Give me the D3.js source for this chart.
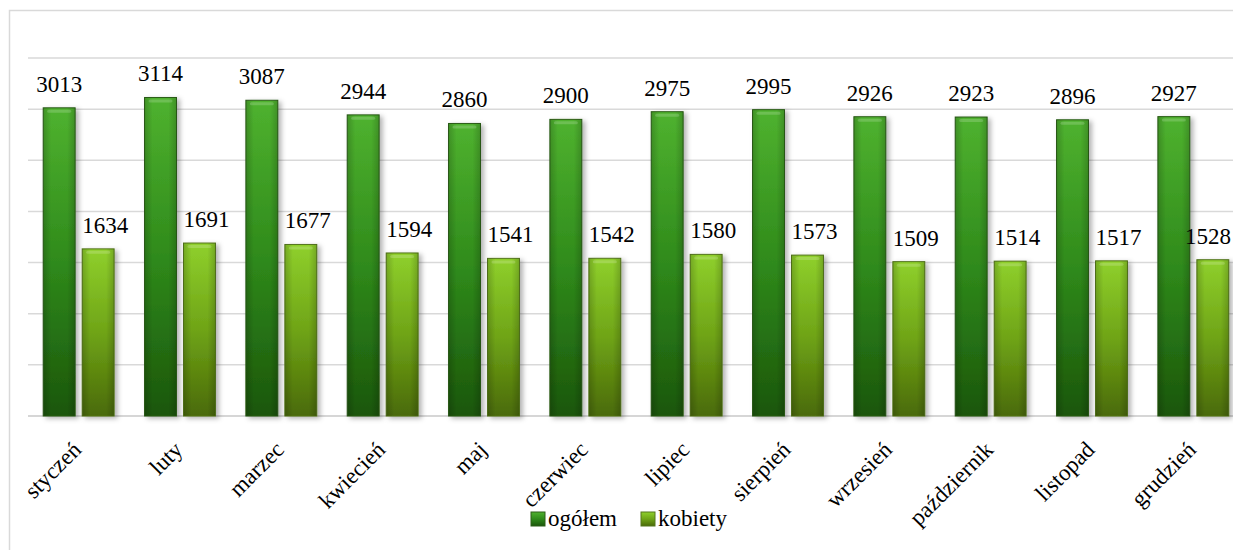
<!DOCTYPE html>
<html>
<head>
<meta charset="utf-8">
<script src="https://cdn.jsdelivr.net/npm/d3@7.9.0/dist/d3.min.js"></script>
<style>
  body { margin: 0; background: #fff; }
  text { font-family: "Liberation Serif", "Times New Roman", serif; }
</style>
</head>
<body>
<svg></svg>
<script>
const months = ["styczeń", "luty", "marzec", "kwiecień", "maj", "czerwiec", "lipiec", "sierpień", "wrzesień", "październik", "listopad", "grudzień"];
const ogolem = [3013, 3114, 3087, 2944, 2860, 2900, 2975, 2995, 2926, 2923, 2896, 2927];
const kobiety = [1634, 1691, 1677, 1594, 1541, 1542, 1580, 1573, 1509, 1514, 1517, 1528];
const seriesNames = ["ogółem", "kobiety"];
const yTicks = [0, 500, 1000, 1500, 2000, 2500, 3000, 3500];

const width = 1233;
const height = 550;

const svg = d3.select("svg")
    .attr("width", width)
    .attr("height", height);

// gradients
const defs = svg.append("defs");
function vGrad(id, stops) {
    const g = defs.append("linearGradient").attr("id", id)
        .attr("x1", 0).attr("y1", 0).attr("x2", 0).attr("y2", 1);
    stops.forEach(s => g.append("stop").attr("offset", s[0]).attr("stop-color", s[1]));
}
vGrad("g0", [[0, "#4fb22f"], [0.5, "#2f8a1b"], [1, "#1b560b"]]);
vGrad("g1", [[0, "#8fd02c"], [0.5, "#6fa417"], [1, "#4a6a07"]]);
const hg = defs.append("linearGradient").attr("id", "hshade")
    .attr("x1", 0).attr("y1", 0).attr("x2", 1).attr("y2", 0);
hg.append("stop").attr("offset", 0).attr("stop-color", "#000").attr("stop-opacity", 0.18);
hg.append("stop").attr("offset", 0.25).attr("stop-color", "#000").attr("stop-opacity", 0);
hg.append("stop").attr("offset", 0.75).attr("stop-color", "#000").attr("stop-opacity", 0);
hg.append("stop").attr("offset", 1).attr("stop-color", "#000").attr("stop-opacity", 0.18);
const f = defs.append("filter").attr("id", "shadow")
    .attr("x", "-30%").attr("y", "-10%").attr("width", "170%").attr("height", "130%");
f.append("feDropShadow").attr("dx", 3).attr("dy", 2).attr("stdDeviation", 2.5)
    .attr("flood-color", "#000").attr("flood-opacity", 0.3);

// outer frame
svg.append("rect")
    .attr("x", 9.5).attr("y", 10.5)
    .attr("width", width + 20).attr("height", height + 20)
    .attr("fill", "none").attr("stroke", "#d9d9d9").attr("stroke-width", 1.5);

const x0 = d3.scaleBand()
    .domain(months)
    .range([28, 1244])
    .paddingInner(0.3)
    .paddingOuter(0.15);

const x1 = d3.scaleBand()
    .domain(seriesNames)
    .range([0, x0.bandwidth()])
    .paddingInner(0.18);

const y = d3.scaleLinear()
    .domain([0, 3500])
    .range([416, 58]);

// gridlines
svg.append("g").selectAll("line")
    .data(yTicks)
    .enter().append("line")
    .attr("x1", 28).attr("x2", 1244)
    .attr("y1", d => y(d)).attr("y2", d => y(d))
    .attr("stroke", d => d === 0 ? "#c8c8c8" : "#d9d9d9")
    .attr("stroke-width", 1.5);

const data = months.map((m, i) => ({ month: m, values: [ogolem[i], kobiety[i]] }));

const groups = svg.append("g").selectAll("g")
    .data(data)
    .enter().append("g")
    .attr("transform", d => `translate(${x0(d.month)},0)`);

const bars = groups.selectAll("g.bar")
    .data(d => d.values.map((v, i) => ({ key: seriesNames[i], i: i, v: v, gx: x0(d.month) })))
    .enter().append("g")
    .attr("class", "bar");

bars.append("rect")
    .attr("x", d => x1(d.key))
    .attr("y", d => y(d.v))
    .attr("width", x1.bandwidth())
    .attr("height", d => y(0) - y(d.v))
    .attr("fill", d => `url(#g${d.i})`)
    .attr("stroke", d => d.i === 0 ? "#2c5e18" : "#55761c")
    .attr("stroke-width", 1)
    .attr("filter", "url(#shadow)");

bars.append("rect")
    .attr("x", d => x1(d.key))
    .attr("y", d => y(d.v))
    .attr("width", x1.bandwidth())
    .attr("height", d => y(0) - y(d.v))
    .attr("fill", "url(#hshade)");

// top highlight
bars.append("rect")
    .attr("x", d => x1(d.key) + 4)
    .attr("y", d => y(d.v) + 2)
    .attr("width", x1.bandwidth() - 8)
    .attr("height", 3)
    .attr("rx", 1.5)
    .attr("fill", "#fff")
    .attr("opacity", 0.18);

// value labels
bars.append("text")
    .attr("x", d => {
        let cx = x1(d.key) + x1.bandwidth() / 2 + (d.i === 1 ? 7 : 0);
        // keep the label inside the picture
        return Math.min(cx, width - 25 - d.gx);
    })
    .attr("y", d => y(d.v) - 16)
    .attr("text-anchor", "middle")
    .style("font-family", "Liberation Serif")
    .attr("font-size", 23)
    .attr("fill", "#000")
    .text(d => d.v);

// category labels
svg.append("g").selectAll("text")
    .data(months)
    .enter().append("text")
    .attr("transform", d => `translate(${x0(d) + x0.bandwidth() / 2 + 4},${451}) rotate(-45)`)
    .attr("text-anchor", "end")
    .style("font-family", "Liberation Serif")
    .attr("font-size", 23)
    .attr("fill", "#000")
    .text(d => d);

// legend
const legend = svg.append("g").attr("transform", "translate(531,512)");
const legendX = [0, 110];
seriesNames.forEach((name, i) => {
    const g = legend.append("g").attr("transform", `translate(${legendX[i]},0)`);
    g.append("rect")
        .attr("width", 14).attr("height", 14)
        .attr("fill", `url(#g${i})`)
        .attr("stroke", i === 0 ? "#2c5e18" : "#55761c");
    g.append("text")
        .attr("x", 17).attr("y", 14)
        .style("font-family", "Liberation Serif")
        .attr("font-size", 23)
        .attr("fill", "#000")
        .text(name);
});
</script>
</body>
</html>
